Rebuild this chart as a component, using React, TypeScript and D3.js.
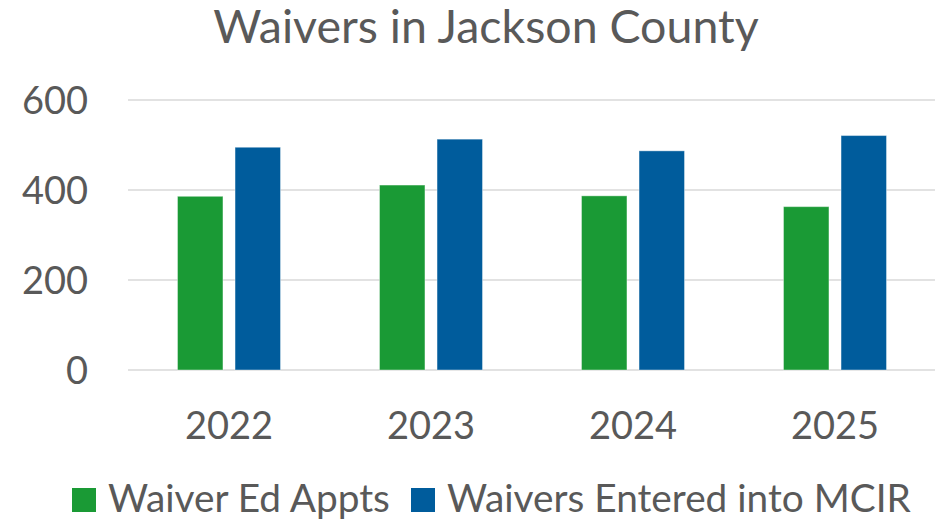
import React from 'react';
import * as d3 from 'd3';

// chart data
const years = ['2022', '2023', '2024', '2025'];
const seriesNames = ['Waiver Ed Appts', 'Waivers Entered into MCIR'];
const edAppts = [386, 411, 387, 363];
const enteredMcir = [495, 513, 487, 521];
const yTicks = [0, 200, 400, 600];
const colors = ['#1a9a35', '#005c9c'];

const W = 935;
const H = 522;
const font = 'Lato, "Open Sans", sans-serif';
const textColor = '#595959';

const App = () => {
  const x = d3.scaleBand<string>().domain(years).range([128, 936]);
  const xSub = d3.scaleBand<string>()
    .domain(seriesNames)
    .range([0, x.bandwidth()])
    .paddingInner(0.21)
    .paddingOuter(0.86);
  const y = d3.scaleLinear().domain([0, 600]).range([370, 100]);

  const values = [edAppts, enteredMcir];

  return (
    <svg width={W} height={H} style={{ position: 'absolute', left: 0, top: 0, background: '#fff' }}
      fontFamily={font}>
      <text x={486} y={43} textAnchor="middle" fontSize={46.5} fill={textColor}>
        Waivers in Jackson County
      </text>

      {/* gridlines */}
      {yTicks.map(t => (
        <g key={t}>
          <line x1={128} x2={935} y1={y(t)} y2={y(t)} stroke="#d9d9d9" strokeWidth={1.5} />
          <text x={88} y={y(t)} dy="0.36em" textAnchor="end" fontSize={38} fill={textColor}>{t}</text>
        </g>
      ))}

      {/* bars */}
      {years.map((yr, i) => (
        <g key={yr} transform={`translate(${x(yr)},0)`}>
          {seriesNames.map((s, j) => (
            <rect key={s}
              x={xSub(s)}
              y={y(values[j][i])}
              width={xSub.bandwidth()}
              height={y(0) - y(values[j][i])}
              fill={colors[j]}
              stroke="#ffffff" strokeOpacity={0.4} strokeWidth={1} />
          ))}
          <text x={x.bandwidth() / 2} y={439} textAnchor="middle" fontSize={38} fill={textColor}>{yr}</text>
        </g>
      ))}

      {/* legend */}
      <rect x={72} y={488} width={24} height={24} fill={colors[0]} />
      <text x={108} y={512} fontSize={38.8} fill={textColor}>{seriesNames[0]}</text>
      <rect x={411} y={488} width={24} height={24} fill={colors[1]} />
      <text x={447} y={512} fontSize={38.8} fill={textColor}>{seriesNames[1]}</text>
    </svg>
  );
};

export default App;
